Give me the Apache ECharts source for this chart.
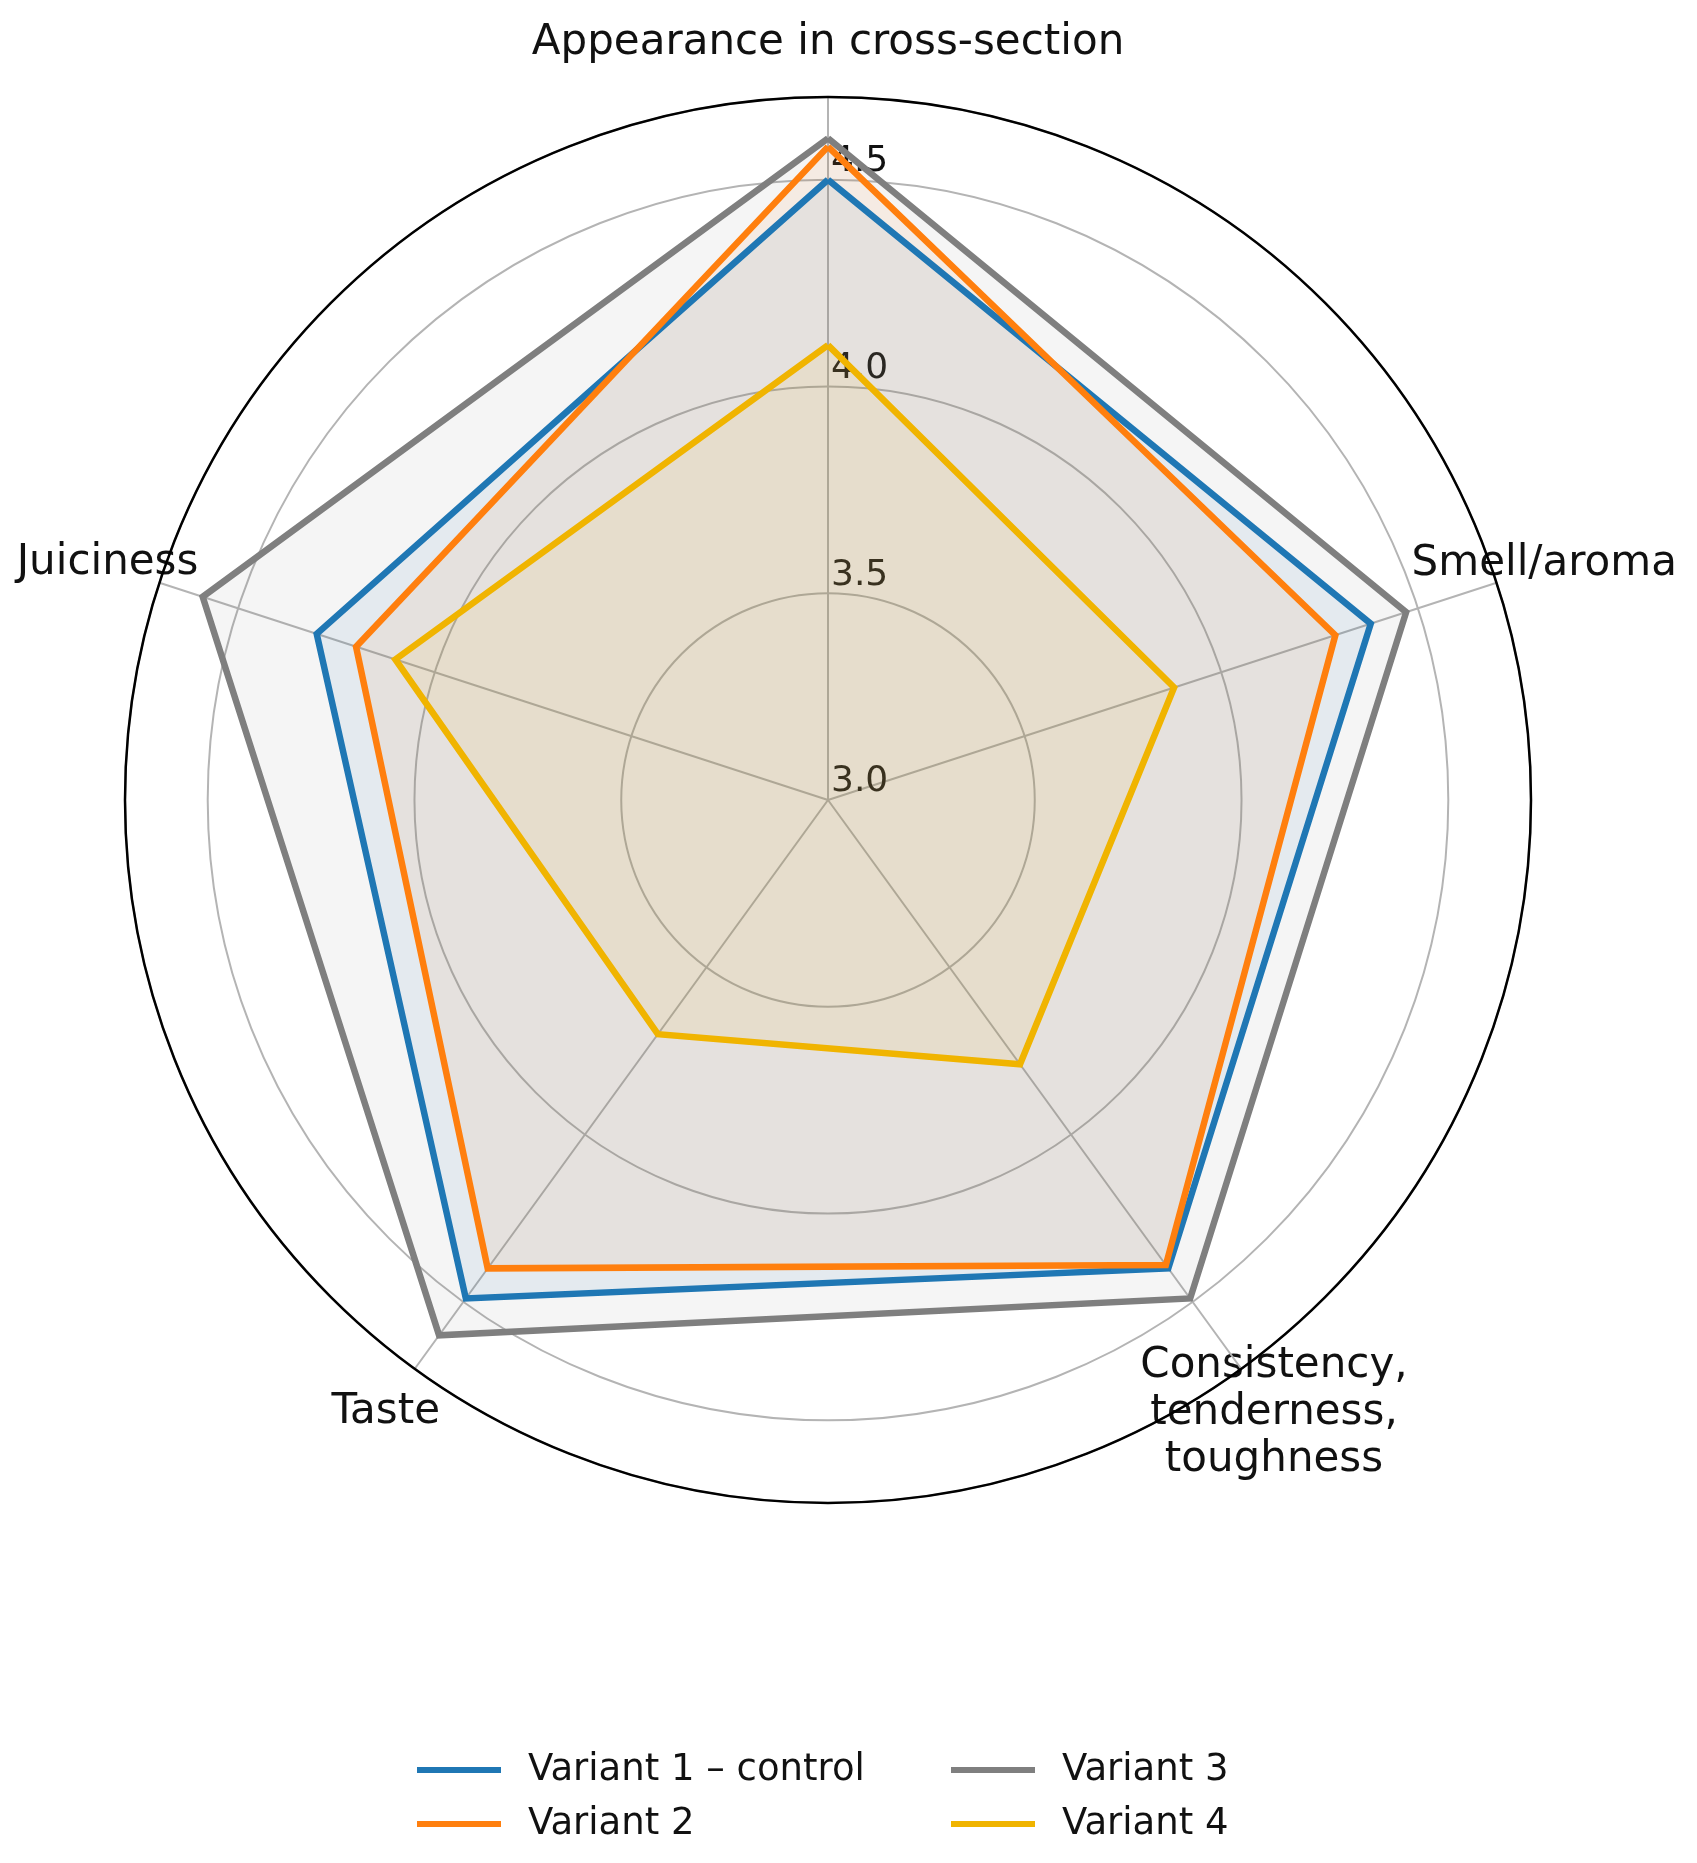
<!DOCTYPE html>
<html>
<head>
<meta charset="utf-8">
<title>Sensory evaluation radar</title>
<script src="https://cdn.jsdelivr.net/npm/echarts@6/dist/echarts.min.js"></script>
<style>
  html, body { margin: 0; padding: 0; background: #fff; }
  #main { width: 1697px; height: 1863px; }
</style>
</head>
<body>
<div id="main"></div>
<script>
// criteria, clockwise from the top
const criteria = ['Appearance in cross-section', 'Smell/aroma', 'Consistency,\ntenderness,\ntoughness', 'Taste', 'Juiciness'];
const variantNames = ['Variant 1 – control', 'Variant 2', 'Variant 3', 'Variant 4'];
const variant1 = [4.5, 4.38, 4.4, 4.49, 4.3];
const variant2 = [4.58, 4.29, 4.39, 4.4, 4.2];
const variant3 = [4.6, 4.47, 4.49, 4.6, 4.59];
const variant4 = [4.1, 3.88, 3.79, 3.7, 4.1];
const radiusTicks = [3.0, 3.5, 4.0, 4.5];

const colors = ['#1f77b4', '#ff7f0e', '#7f7f7f', '#f0b400'];
// nudges so each name sits centred just outside the circle
const labelPads = [[0, 0, 10, 0], [0, 0, -11, -104], [-42, 0, 0, -114], [4, -37, 0, 0], [0, -58, -10, 0]];

const myChart = echarts.init(document.querySelector('#main'));

// close the polygon by repeating the first point at angle index n
function closed(values) {
  const pts = values.map((v, i) => [v, i]);
  pts.push([values[0], values.length]);
  return pts;
}

const allSeries = [variant1, variant2, variant3, variant4].map((vals, k) => ({
  name: variantNames[k],
  type: 'line',
  coordinateSystem: 'polar',
  polarIndex: 1,
  data: closed(vals),
  symbol: 'none',
  clip: false,
  color: colors[k],
  lineStyle: { width: 6.5, color: colors[k], join: 'miter' },
  areaStyle: { color: colors[k], opacity: 0.08 },
  emphasis: { disabled: true }
}));

const legendText = { fontSize: 37, lineHeight: 40, color: '#111', padding: [0, 0, 0, 22] };

const option = {
  animation: false,
  backgroundColor: '#fff',
  textStyle: { fontFamily: 'DejaVu Sans' },
  polar: [
    { center: [828, 800], radius: 703 },
    { center: [828, 800], radius: 703 }
  ],
  angleAxis: [
    {
      // names and spokes
      polarIndex: 0,
      type: 'category',
      data: criteria.map((c, i) => ({ value: c, textStyle: { padding: labelPads[i] } })),
      boundaryGap: false,
      startAngle: 90,
      clockwise: true,
      axisLine: { show: false },
      axisTick: { show: false },
      splitLine: { show: true, lineStyle: { color: '#b4b4b4', width: 2 } },
      axisLabel: {
        margin: 20,
        fontSize: 42,
        lineHeight: 47,
        color: '#111',
        formatter: function (v) {
          if (v.indexOf('\n') < 0) return v;
          return v.split('\n').map(s => '{c|' + s + '}').join('\n');
        },
        rich: { c: { fontSize: 42, lineHeight: 47, width: 270, align: 'center', color: '#111' } }
      },
      z: 1
    },
    {
      // full circle: outer frame
      polarIndex: 1,
      type: 'value',
      min: 0,
      max: criteria.length,
      startAngle: 90,
      clockwise: true,
      axisLine: { show: true, lineStyle: { color: '#000', width: 2.5 } },
      axisTick: { show: false },
      axisLabel: { show: false },
      splitLine: { show: false },
      z: 1
    }
  ],
  radiusAxis: [
    {
      polarIndex: 0,
      type: 'value',
      min: 3,
      max: 4.7,
      show: false
    },
    {
      polarIndex: 1,
      type: 'value',
      min: 3,
      max: 4.7,
      interval: 0.5,
      axisLine: { show: false },
      axisTick: { show: false },
      splitLine: { show: true, lineStyle: { color: '#b4b4b4', width: 2 } },
      axisLabel: {
        showMinLabel: true,
        margin: 0,
        align: 'left',
        verticalAlign: 'bottom',
        padding: [0, 0, 0, 3],
        fontSize: 36,
        color: '#111',
        formatter: function (v) {
          const hit = radiusTicks.find(t => Math.abs(t - v) < 1e-6);
          return hit === undefined ? '' : hit.toFixed(1);
        }
      },
      z: 1
    }
  ],
  legend: [
    {
      data: variantNames.slice(0, 2),
      orient: 'vertical',
      left: 417,
      top: 1750,
      padding: 0,
      icon: 'rect',
      itemWidth: 84,
      itemHeight: 6,
      itemGap: 14,
      selectedMode: false,
      textStyle: legendText
    },
    {
      data: variantNames.slice(2, 4),
      orient: 'vertical',
      left: 951,
      top: 1750,
      padding: 0,
      icon: 'rect',
      itemWidth: 84,
      itemHeight: 6,
      itemGap: 14,
      selectedMode: false,
      textStyle: legendText
    }
  ],
  series: allSeries
};

option && myChart.setOption(option);
</script>
</body>
</html>
